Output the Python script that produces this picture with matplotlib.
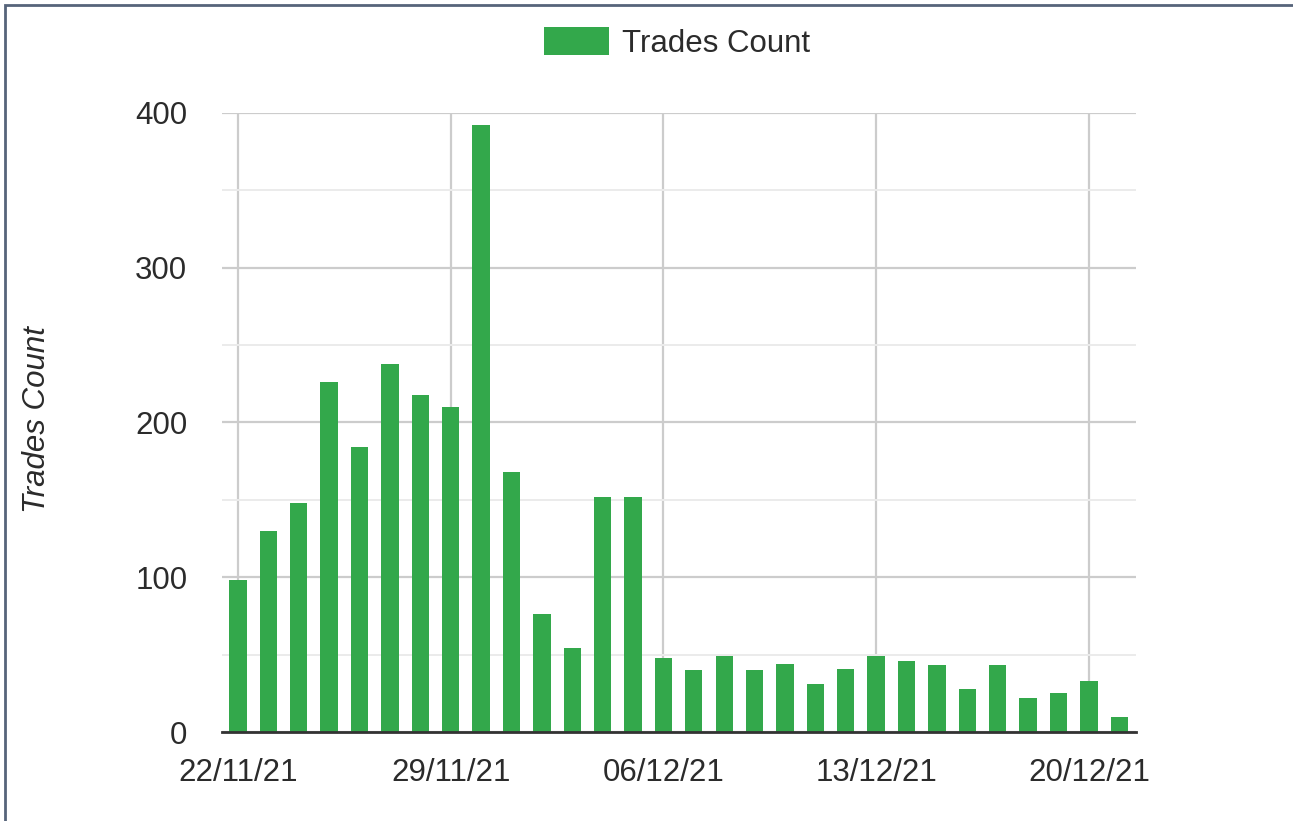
import matplotlib
matplotlib.use('Agg')
import matplotlib.pyplot as plt
import matplotlib.dates as mdates
from matplotlib.patches import Rectangle
from matplotlib.ticker import MultipleLocator
import pandas as pd

plt.rcParams['font.family'] = ['Liberation Sans', 'DejaVu Sans']

# 数据
dates = pd.date_range('2021-11-22', periods=30, freq='D')
trades = [98, 130, 148, 226, 184, 238, 218, 210, 392, 168,
          76, 54, 152, 152, 48, 40, 49, 40, 44, 31,
          41, 49, 46, 43, 28, 43, 22, 25, 33, 10]
tick_dates = ['2021-11-22', '2021-11-29', '2021-12-06', '2021-12-13', '2021-12-20']
series_name = 'Trades Count'

green = '#33a84b'
text_c = '#2b2b2b'
fs = 22.5

fig = plt.figure(figsize=(12.93, 8.21), dpi=100)
ax = fig.add_axes([222 / 1293, 89 / 821, 914 / 1293, 619 / 821])

ax.bar(dates, trades, width=0.57, color=green, label=series_name, zorder=3)

ax.set_ylim(0, 400)
ax.set_xlim(pd.Timestamp('2021-11-22') - pd.Timedelta(hours=12.6),
            pd.Timestamp('2021-11-22') + pd.Timedelta(hours=29.55 * 24))

ax.yaxis.set_major_locator(MultipleLocator(100))
ax.yaxis.set_minor_locator(MultipleLocator(50))
ax.set_xticks(pd.to_datetime(tick_dates))
ax.xaxis.set_major_formatter(mdates.DateFormatter('%d/%m/%y'))

ax.grid(True, which='major', color='#cccccc', linewidth=1.6, zorder=0)
ax.grid(True, which='minor', axis='y', color='#ebebeb', linewidth=1.4, zorder=0)
ax.set_axisbelow(True)

for s in ['top', 'right', 'left']:
    ax.spines[s].set_visible(False)
ax.spines['bottom'].set_color('#333333')
ax.spines['bottom'].set_linewidth(2)
ax.spines['bottom'].set_zorder(4)

ax.tick_params(axis='both', which='both', length=0, labelsize=fs, colors=text_c)
ax.tick_params(axis='y', pad=25)
ax.tick_params(axis='x', pad=19)

# y轴标题 (斜体)
fig.text(37 / 1293, 1 - 420 / 821, series_name, fontsize=fs, style='italic',
         color=text_c, rotation=90, ha='center', va='center')

fig.legend(loc='center', bbox_to_anchor=(677 / 1293, 1 - 43 / 821), frameon=False,
           fontsize=fs, handlelength=2.1, handleheight=1.02, handletextpad=0.42,
           labelcolor=text_c)

# 外边框
fig.patches.append(Rectangle((5 / 1293, -0.1), 1.2, 1 - 5 / 821 + 0.1,
                             transform=fig.transFigure, fill=False,
                             edgecolor='#56647a', linewidth=2))

fig.savefig('out.png', dpi=100)
